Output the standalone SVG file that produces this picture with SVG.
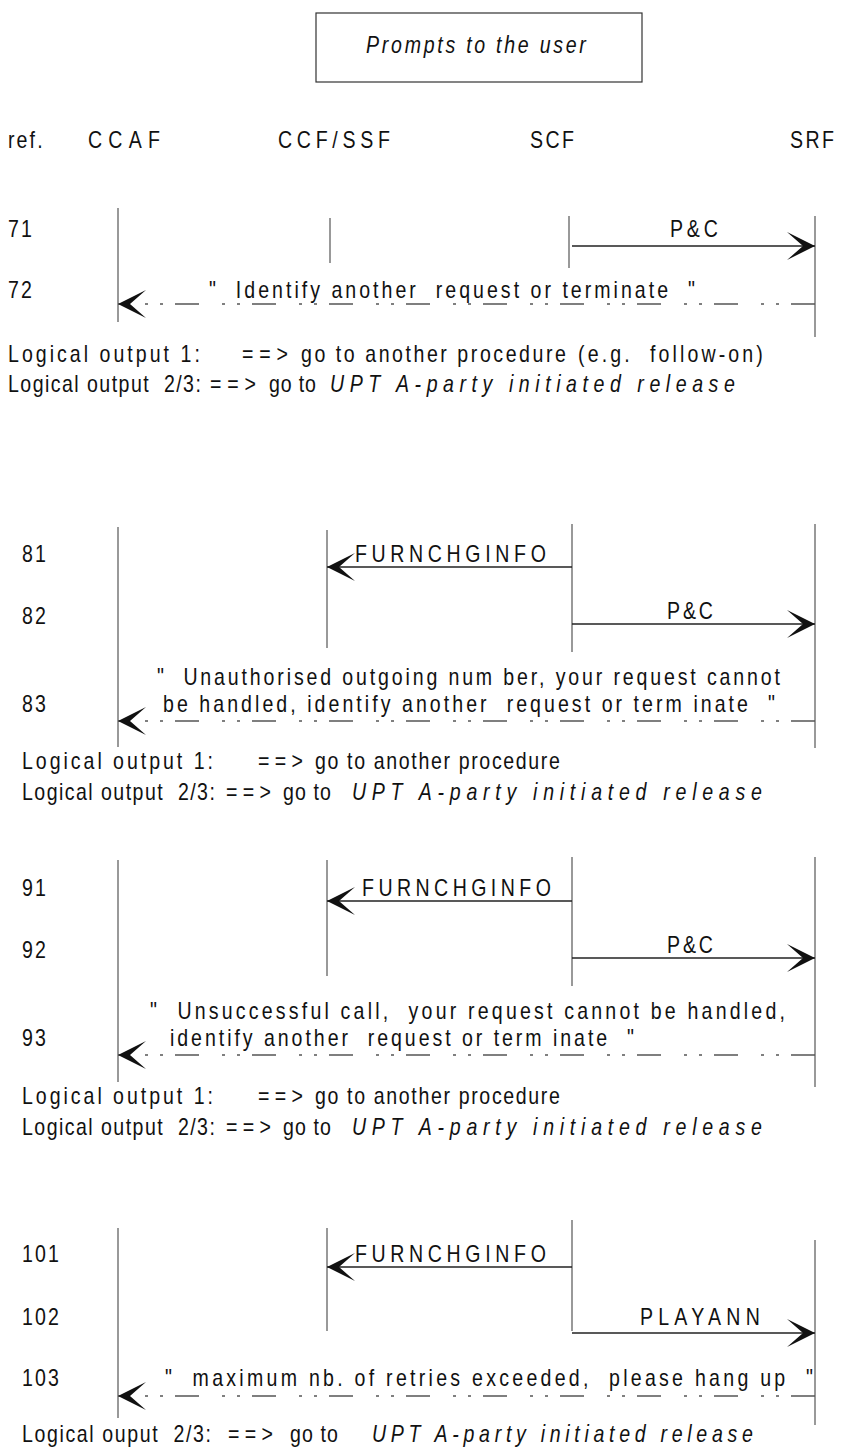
<svg xmlns="http://www.w3.org/2000/svg" width="846" height="1448" viewBox="0 0 846 1448">
<style>
text{font-family:"Liberation Sans",Arial,sans-serif;font-size:23px;fill:#111;letter-spacing:2.5px}
.i{font-style:italic}
.life{stroke:#555;stroke-width:1.2;fill:none}
.msg{stroke:#222;stroke-width:1.3;fill:none;marker-end:url(#ah)}
.ret{stroke:#555;stroke-width:1.3;fill:none;stroke-dasharray:24 12 3 12 3 23;marker-end:url(#ah)}
</style>
<defs>
<marker id="ah" viewBox="-30 -16 32 32" refX="0" refY="0" markerWidth="32" markerHeight="32" markerUnits="userSpaceOnUse" orient="auto">
<path d="M0,0 L-28,-14 L-12,0 L-28,14 Z" fill="#111"/>
</marker>
</defs>
<rect width="846" height="1448" fill="#fff"/>

<g id="title">
<rect x="316" y="13" width="326" height="69" fill="none" stroke="#333" stroke-width="1.2"/>
<g transform="scale(0.85,1)">
<text class="i" x="430.6" y="53" textLength="261.2" lengthAdjust="spacing">Prompts to the user</text>
</g>
</g>

<g id="headers" transform="scale(0.85,1)">
<text x="9.4" y="148">ref.</text>
<text x="103.5" y="148" textLength="87.1" lengthAdjust="spacing">CCAF</text>
<text x="327.1" y="148" textLength="134.1" lengthAdjust="spacing">CCF/SSF</text>
<text x="623.5" y="148" textLength="54.1" lengthAdjust="spacing">SCF</text>
<text x="929.4" y="148" textLength="54.1" lengthAdjust="spacing">SRF</text>
</g>

<g id="lifelines">
<line class="life" x1="118" y1="208" x2="118" y2="322"/>
<line class="life" x1="330" y1="218" x2="330" y2="263"/>
<line class="life" x1="569" y1="216" x2="569" y2="268"/>
<line class="life" x1="815" y1="216" x2="815" y2="337"/>

<line class="life" x1="118" y1="527" x2="118" y2="747"/>
<line class="life" x1="327" y1="530" x2="327" y2="648"/>
<line class="life" x1="572" y1="524" x2="572" y2="652"/>
<line class="life" x1="815" y1="524" x2="815" y2="748"/>

<line class="life" x1="118" y1="860" x2="118" y2="1082"/>
<line class="life" x1="327" y1="860" x2="327" y2="976"/>
<line class="life" x1="572" y1="857" x2="572" y2="986"/>
<line class="life" x1="815" y1="857" x2="815" y2="1087"/>

<line class="life" x1="118" y1="1228" x2="118" y2="1418"/>
<line class="life" x1="327" y1="1228" x2="327" y2="1331"/>
<line class="life" x1="572" y1="1220" x2="572" y2="1331"/>
<line class="life" x1="815" y1="1240" x2="815" y2="1425"/>
</g>

<g id="connectors">
<line class="msg" x1="572" y1="246" x2="815" y2="246"/>
<line class="ret" x1="815" y1="304" x2="118" y2="304"/>

<line class="msg" x1="572" y1="567" x2="327" y2="567"/>
<line class="msg" x1="572" y1="624" x2="815" y2="624"/>
<line class="ret" x1="815" y1="721" x2="118" y2="721"/>

<line class="msg" x1="572" y1="901" x2="327" y2="901"/>
<line class="msg" x1="572" y1="958" x2="815" y2="958"/>
<line class="ret" x1="815" y1="1055" x2="118" y2="1055"/>

<line class="msg" x1="572" y1="1267" x2="327" y2="1267"/>
<line class="msg" x1="572" y1="1333" x2="815" y2="1333"/>
<line class="ret" x1="815" y1="1396" x2="118" y2="1396"/>
</g>

<g id="step7" transform="scale(0.85,1)">
<text x="9.4" y="237">71</text>
<text x="788.2" y="237" textLength="58.8" lengthAdjust="spacing">P&amp;C</text>
<text x="9.4" y="298">72</text>
<text x="245.9" y="298" textLength="574.1" lengthAdjust="spacing" xml:space="preserve">"  Identify another  request or terminate  "</text>
<text x="9.4" y="362" textLength="228.2" lengthAdjust="spacing">Logical output 1:</text>
<text x="284.7" y="362" textLength="56.5" lengthAdjust="spacing">==&gt;</text>
<text x="354.1" y="362" textLength="314.1" lengthAdjust="spacing">go to another procedure</text>
<text x="680" y="362" textLength="220" lengthAdjust="spacing" xml:space="preserve">(e.g.  follow-on)</text>
<text x="9.4" y="392" textLength="229.4" lengthAdjust="spacing" xml:space="preserve">Logical output  2/3:</text>
<text x="247.1" y="392" textLength="56.5" lengthAdjust="spacing">==&gt;</text>
<text x="316.5" y="392" textLength="57.6" lengthAdjust="spacing">go to</text>
<text class="i" x="388.2" y="392" textLength="478.8" lengthAdjust="spacing">UPT A-party initiated release</text>
</g>

<g id="step8" transform="scale(0.85,1)">
<text x="25.9" y="562">81</text>
<text x="417.6" y="562" textLength="227.1" lengthAdjust="spacing">FURNCHGINFO</text>
<text x="25.9" y="624">82</text>
<text x="784.7" y="619" textLength="56.5" lengthAdjust="spacing">P&amp;C</text>
<text x="184.7" y="685" textLength="735.3" lengthAdjust="spacing" xml:space="preserve">"  Unauthorised outgoing num ber, your request cannot</text>
<text x="25.9" y="712">83</text>
<text x="191.8" y="712" textLength="722.4" lengthAdjust="spacing" xml:space="preserve">be handled, identify another  request or term inate  "</text>
<text x="25.9" y="769" textLength="227.1" lengthAdjust="spacing">Logical output 1:</text>
<text x="303.5" y="769" textLength="55.3" lengthAdjust="spacing">==&gt;</text>
<text x="370.6" y="769" textLength="290.6" lengthAdjust="spacing">go to another procedure</text>
<text x="25.9" y="800" textLength="229.4" lengthAdjust="spacing" xml:space="preserve">Logical output  2/3:</text>
<text x="265.9" y="800" textLength="55.3" lengthAdjust="spacing">==&gt;</text>
<text x="332.9" y="800" textLength="58.8" lengthAdjust="spacing">go to</text>
<text class="i" x="414.1" y="800" textLength="484.7" lengthAdjust="spacing">UPT A-party initiated release</text>
</g>

<g id="step9" transform="scale(0.85,1)">
<text x="25.9" y="896">91</text>
<text x="425.9" y="896" textLength="224.7" lengthAdjust="spacing">FURNCHGINFO</text>
<text x="25.9" y="958">92</text>
<text x="784.7" y="953" textLength="56.5" lengthAdjust="spacing">P&amp;C</text>
<text x="176.5" y="1019" textLength="749.4" lengthAdjust="spacing" xml:space="preserve">"  Unsuccessful call,  your request cannot be handled,</text>
<text x="25.9" y="1046">93</text>
<text x="200" y="1046" textLength="548.2" lengthAdjust="spacing" xml:space="preserve">identify another  request or term inate  "</text>
<text x="25.9" y="1104" textLength="227.1" lengthAdjust="spacing">Logical output 1:</text>
<text x="303.5" y="1104" textLength="55.3" lengthAdjust="spacing">==&gt;</text>
<text x="370.6" y="1104" textLength="290.6" lengthAdjust="spacing">go to another procedure</text>
<text x="25.9" y="1135" textLength="229.4" lengthAdjust="spacing" xml:space="preserve">Logical output  2/3:</text>
<text x="265.9" y="1135" textLength="55.3" lengthAdjust="spacing">==&gt;</text>
<text x="332.9" y="1135" textLength="58.8" lengthAdjust="spacing">go to</text>
<text class="i" x="414.1" y="1135" textLength="484.7" lengthAdjust="spacing">UPT A-party initiated release</text>
</g>

<g id="step10" transform="scale(0.85,1)">
<text x="25.9" y="1262">101</text>
<text x="417.6" y="1262" textLength="227.1" lengthAdjust="spacing">FURNCHGINFO</text>
<text x="25.9" y="1325">102</text>
<text x="752.9" y="1325" textLength="143.5" lengthAdjust="spacing">PLAYANN</text>
<text x="25.9" y="1386">103</text>
<text x="194.1" y="1386" textLength="764.7" lengthAdjust="spacing" xml:space="preserve">"  maximum nb. of retries exceeded,  please hang up  "</text>
<text x="25.9" y="1442" textLength="224.7" lengthAdjust="spacing" xml:space="preserve">Logical ouput  2/3:</text>
<text x="268.2" y="1442" textLength="55.3" lengthAdjust="spacing">==&gt;</text>
<text x="341.2" y="1442" textLength="58.8" lengthAdjust="spacing">go to</text>
<text class="i" x="437.6" y="1442" textLength="450.6" lengthAdjust="spacing">UPT A-party initiated release</text>
</g>
</svg>
